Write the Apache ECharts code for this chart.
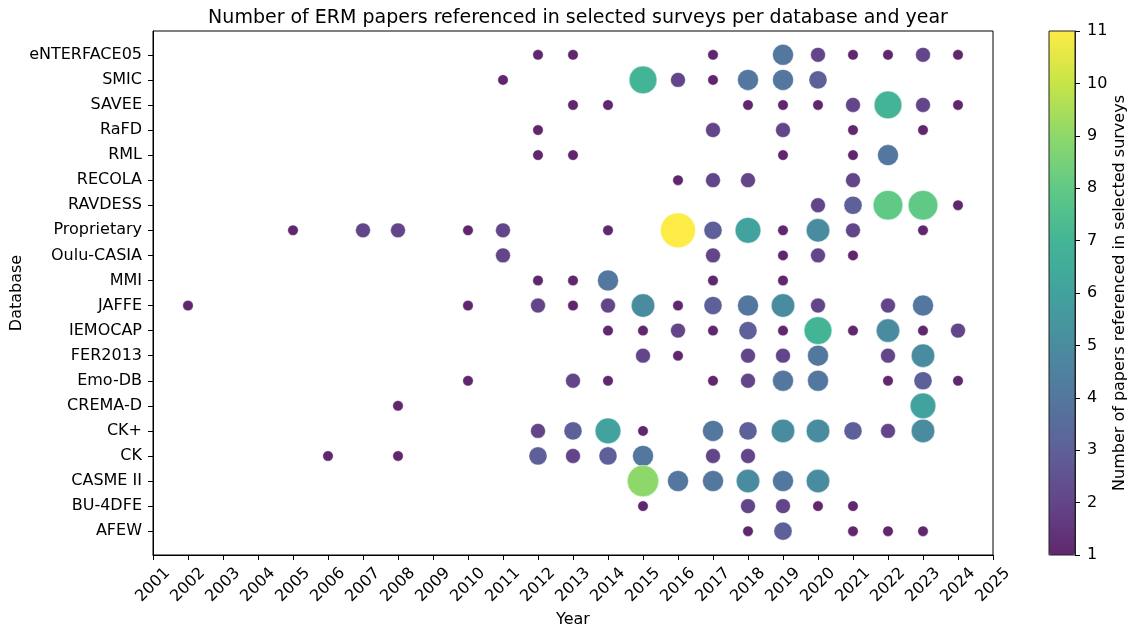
<!DOCTYPE html>
<html>
<head>
<meta charset="utf-8">
<script src="https://cdn.jsdelivr.net/npm/echarts@6/dist/echarts.min.js"></script>
<style>html,body{margin:0;padding:0;background:#fff}#c{width:1133px;height:630px}</style>
</head>
<body>
<div id="c"></div>
<script>
// ---- data ----
const yearList = [2002,2003,2004,2005,2006,2007,2008,2009,2010,2011,2012,2013,2014,2015,2016,2017,2018,2019,2020,2021,2022,2023,2024];
const databases = ["eNTERFACE05","SMIC","SAVEE","RaFD","RML","RECOLA","RAVDESS","Proprietary","Oulu-CASIA","MMI","JAFFE","IEMOCAP","FER2013","Emo-DB","CREMA-D","CK+","CK","CASME II","BU-4DFE","AFEW"];
//                     02 03 04 05 06 07 08 09 10 11 12 13 14 15 16 17 18 19 20 21 22 23 24
const cntENTERFACE05 = [0,0,0,0,0,0,0,0,0,0,1,1,0,0,0,1,0,4,2,1,1,2,1];
const cntSMIC        = [0,0,0,0,0,0,0,0,0,1,0,0,0,7,2,1,4,4,3,0,0,0,0];
const cntSAVEE       = [0,0,0,0,0,0,0,0,0,0,0,1,1,0,0,0,1,1,1,2,7,2,1];
const cntRaFD        = [0,0,0,0,0,0,0,0,0,0,1,0,0,0,0,2,0,2,0,1,0,1,0];
const cntRML         = [0,0,0,0,0,0,0,0,0,0,1,1,0,0,0,0,0,1,0,1,4,0,0];
const cntRECOLA      = [0,0,0,0,0,0,0,0,0,0,0,0,0,0,1,2,2,0,0,2,0,0,0];
const cntRAVDESS     = [0,0,0,0,0,0,0,0,0,0,0,0,0,0,0,0,0,0,2,3,8,8,1];
const cntProprietary = [0,0,0,1,0,2,2,0,1,2,0,0,1,0,11,3,6,1,5,2,0,1,0];
const cntOuluCASIA   = [0,0,0,0,0,0,0,0,0,2,0,0,0,0,0,2,0,1,2,1,0,0,0];
const cntMMI         = [0,0,0,0,0,0,0,0,0,0,1,1,4,0,0,1,0,1,0,0,0,0,0];
const cntJAFFE       = [1,0,0,0,0,0,0,0,1,0,2,1,2,5,1,3,4,5,2,0,2,4,0];
const cntIEMOCAP     = [0,0,0,0,0,0,0,0,0,0,0,0,1,1,2,1,3,1,7,1,5,1,2];
const cntFER2013     = [0,0,0,0,0,0,0,0,0,0,0,0,0,2,1,0,2,2,4,0,2,5,0];
const cntEmoDB       = [0,0,0,0,0,0,0,0,1,0,0,2,1,0,0,1,2,4,4,0,1,3,1];
const cntCREMAD      = [0,0,0,0,0,0,1,0,0,0,0,0,0,0,0,0,0,0,0,0,0,6,0];
const cntCKplus      = [0,0,0,0,0,0,0,0,0,0,2,3,6,1,0,4,3,5,5,3,2,5,0];
const cntCK          = [0,0,0,0,1,0,1,0,0,0,3,2,3,4,0,2,2,0,0,0,0,0,0];
const cntCASMEII     = [0,0,0,0,0,0,0,0,0,0,0,0,0,9,4,4,5,4,5,0,0,0,0];
const cntBU4DFE      = [0,0,0,0,0,0,0,0,0,0,0,0,0,1,0,0,2,2,1,1,0,0,0];
const cntAFEW        = [0,0,0,0,0,0,0,0,0,0,0,0,0,0,0,0,1,3,0,1,1,1,0];
const countRows = [cntENTERFACE05,cntSMIC,cntSAVEE,cntRaFD,cntRML,cntRECOLA,cntRAVDESS,cntProprietary,cntOuluCASIA,cntMMI,cntJAFFE,cntIEMOCAP,cntFER2013,cntEmoDB,cntCREMAD,cntCKplus,cntCK,cntCASMEII,cntBU4DFE,cntAFEW];
const xTickYears = [2001,2025];
const colorbarTicks = [1,11];

// ---- styling helpers ----
const viridis = ['#440154','#482475','#414487','#355f8d','#2a788e','#21918c','#22a884','#44bf70','#7ad151','#bddf26','#fde725'];
const ALPHA = 0.85;
function blend(hex){
  const r=parseInt(hex.slice(1,3),16),g=parseInt(hex.slice(3,5),16),b=parseInt(hex.slice(5,7),16);
  const f=c=>Math.round(ALPHA*c+(1-ALPHA)*255);
  return 'rgb('+f(r)+','+f(g)+','+f(b)+')';
}
const viridisBlended = viridis.map(blend);

const points = [];
countRows.forEach((row, i) => {
  row.forEach((v, j) => { if (v > 0) points.push([yearList[j], i, v]); });
});

const FONT = 'DejaVu Sans';
const FS = 16;
const chart = echarts.init(document.getElementById('c'), null, {renderer:'canvas'});
chart.setOption({
  animation: false,
  backgroundColor: '#fff',
  textStyle: {fontFamily: FONT},
  title: {
    text: 'Number of ERM papers referenced in selected surveys per database and year',
    left: 573, top: 4, textAlign: 'center',
    textStyle: {fontFamily: FONT, fontSize: 19, fontWeight: 'normal', color: '#000'}
  },
  grid: [
    {left: 153, right: 140, top: 31, bottom: 75, show: true, borderColor: '#000', borderWidth: 1, backgroundColor: 'transparent', outerBoundsMode: 'none', containLabel: false},
    {left: 1049, width: 26, top: 31, bottom: 75, show: true, borderColor: '#222', borderWidth: 1, backgroundColor: 'transparent', z: 10, outerBoundsMode: 'none', containLabel: false}
  ],
  xAxis: [
    {
      type: 'value', gridIndex: 0, min: xTickYears[0], max: xTickYears[1], interval: 1,
      name: 'Year', nameLocation: 'middle', nameGap: 57, nameMoveOverlap: false,
      nameTextStyle: {fontFamily: FONT, fontSize: FS, color: '#000'},
      axisLine: {show: true, onZero: false, lineStyle: {color: '#000', width: 1}},
      axisTick: {show: true, inside: false, length: 5, lineStyle: {color: '#000'}},
      axisLabel: {rotate: 45, align: 'center', verticalAlign: 'middle', margin: 30, fontFamily: FONT, fontSize: FS, color: '#000',
        formatter: v => String(v)},
      splitLine: {show: false}
    },
    {type: 'value', gridIndex: 1, min: 0, max: 1, show: false}
  ],
  yAxis: [
    {
      type: 'value', gridIndex: 0, inverse: true, min: -0.95, max: databases.length - 1 + 0.95,
      name: 'Database', nameLocation: 'middle', nameGap: 128, nameRotate: 90, nameMoveOverlap: false,
      nameTextStyle: {fontFamily: FONT, fontSize: FS, color: '#000'},
      axisLine: {show: true, onZero: false, lineStyle: {color: '#000', width: 1}},
      axisTick: {show: true, length: 5, lineStyle: {color: '#000'}, customValues: databases.map((d, i) => i)},
      axisLabel: {margin: 11, fontFamily: FONT, fontSize: FS, color: '#000',
        customValues: databases.map((d, i) => i),
        formatter: v => databases[Math.round(v)] || ''},
      splitLine: {show: false}
    },
    {
      type: 'value', gridIndex: 1, position: 'right', min: colorbarTicks[0], max: colorbarTicks[1], interval: 1,
      name: 'Number of papers referenced in selected surveys', nameLocation: 'middle', nameGap: 37, nameRotate: 90, nameMoveOverlap: false,
      nameTextStyle: {fontFamily: FONT, fontSize: FS, color: '#000'},
      axisLine: {show: true, onZero: false, lineStyle: {color: '#222', width: 1}},
      axisTick: {show: true, length: 5, lineStyle: {color: '#000'}},
      axisLabel: {margin: 12, fontFamily: FONT, fontSize: FS, color: '#000'},
      splitLine: {show: false}
    }
  ],
  visualMap: {
    type: 'continuous', min: colorbarTicks[0], max: colorbarTicks[1], dimension: 2, seriesIndex: 0,
    left: 1049, top: 31, itemWidth: 26, itemHeight: 524, padding: 0,
    calculable: false, hoverLink: false, text: null, showLabel: false, indicatorSize: 0,
    inRange: {color: viridisBlended},
    z: 4
  },
  series: [{
    type: 'scatter', xAxisIndex: 0, yAxisIndex: 0,
    data: points,
    symbolSize: d => 10.5 * Math.sqrt(d[2]),
    itemStyle: {opacity: 1, borderColor: 'rgba(255,255,255,0.45)', borderWidth: 1},
    emphasis: {disabled: true}
  }]
});
</script>
</body>
</html>
